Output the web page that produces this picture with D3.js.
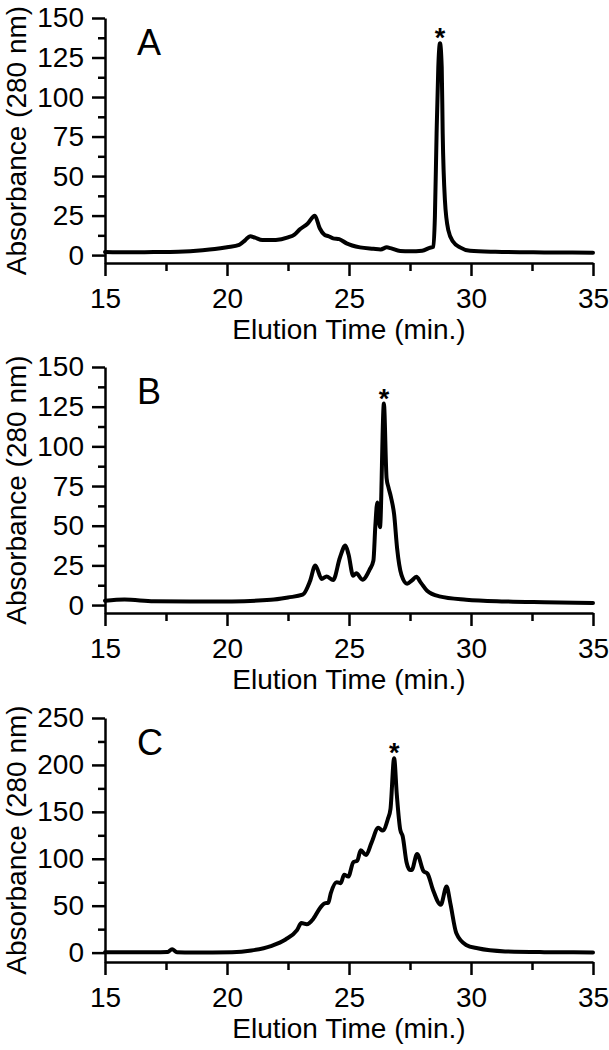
<!DOCTYPE html>
<meta charset="utf-8">
<style>
  body { margin: 0; background: #fff; }
  svg { display: block; font-family: "Liberation Sans", Arial, sans-serif; }
  .axis path, .axis line { stroke: #000; stroke-width: 2.5; }
  .axis text { font-size: 28px; fill: #000; font-family: "Liberation Sans", Arial, sans-serif; }
  .trace { fill: none; stroke: #000; stroke-width: 4; stroke-linejoin: round; stroke-linecap: round; }
  .title { font-size: 28px; fill: #000; }
  .letter { font-size: 36px; fill: #000; }
  .star { font-size: 27px; font-weight: bold; fill: #000; }
</style>
<body>
<script src="https://d3js.org/d3.v7.min.js"></script>
<script>

const width = 609;
const height = 1050;

// elution time (min.) and absorbance at 280 nm
const timeA = [15, 16, 17, 18, 19, 19.5, 20, 20.5, 20.75, 20.95, 21.15, 21.45, 22, 22.5, 22.75, 23, 23.3, 23.6, 23.8, 24, 24.15, 24.35, 24.6, 24.9, 25.45, 26, 26.3, 26.55, 26.7, 27.1, 27.5, 28, 28.3, 28.46, 28.52, 28.59, 28.66, 28.73, 28.8, 28.84, 28.93, 29.07, 29.27, 29.55, 29.96, 31, 33, 35];
const absA  = [2.0, 1.8, 1.9, 2.1, 3.0, 3.8, 5.0, 6.5, 9.5, 12, 11, 9.5, 9.6, 11.2, 12.8, 16.5, 19.8, 24.9, 17, 12.8, 12, 10.6, 10.1, 7.4, 4.9, 4.0, 3.6, 4.9, 4.4, 2.6, 2.4, 2.8, 4.6, 5.3, 24, 77, 119, 134, 119, 77, 35, 15.8, 8.4, 4.9, 2.7, 2.1, 1.7, 1.5];

const timeB = [15, 15.8, 17, 18.5, 20.2, 21.8, 22.5, 23.1, 23.4, 23.62, 23.88, 24.08, 24.35, 24.63, 24.85, 24.98, 25.17, 25.3, 25.55, 25.85, 26.0, 26.08, 26.16, 26.27, 26.43, 26.54, 26.62, 26.72, 26.85, 26.97, 27.15, 27.38, 27.58, 27.76, 27.95, 28.2, 28.7, 29.8, 31.4, 33, 35];
const absB  = [2.7, 3.5, 2.4, 2.2, 2.3, 3.3, 4.8, 6.5, 15, 25, 16.5, 18, 15.8, 30, 37.5, 32, 18.5, 20, 16, 22.5, 28, 50, 64.7, 49, 127, 80, 74, 68, 57, 36, 19, 13.5, 15.5, 17.8, 14, 9, 5.5, 3.4, 2.3, 1.8, 1.3];

const timeC = [15, 17, 17.55, 17.75, 17.95, 18.6, 20.2, 21.0, 21.8, 22.4, 22.87, 23.05, 23.27, 23.55, 23.8, 24.0, 24.15, 24.25, 24.5, 24.66, 24.8, 24.97, 25.18, 25.34, 25.48, 25.7, 25.92, 26.2, 26.38, 26.6, 26.7, 26.85, 26.96, 27.1, 27.2, 27.36, 27.5, 27.57, 27.79, 28.05, 28.22, 28.44, 28.76, 29.0, 29.15, 29.4, 29.8, 30.27, 31.4, 33, 35];
const absC  = [0.5, 0.4, 0.6, 3.6, 0.5, 0, 0.4, 2.3, 7, 14, 24, 31.5, 30.3, 36.5, 47, 52.5, 53, 63, 75, 74, 83, 81, 96.5, 98, 109, 104, 117, 133, 130, 143, 153, 207, 168, 131, 124, 96, 88, 88, 105, 87, 84, 67, 51, 70.4, 53, 20.6, 8.2, 4.6, 1.3, 0.5, 0.2];

const panelLabels = ["A", "B", "C"];
const yMax = [150, 150, 250];
const yMin = [-5, -5, -10];
const yStep = [25, 25, 50];
const xMajor = [15, 20, 25, 30, 35];
const xMinor = [17.5, 22.5, 27.5, 32.5];
const xTitle = "Elution Time (min.)";
const yTitle = "Absorbance (280 nm)";

const series = [
  {time: timeA, abs: absA},
  {time: timeB, abs: absB},
  {time: timeC, abs: absC}
];

// panel frames: top of y range, bottom (x axis) line
const frames = [[18, 263], [367, 613], [718, 962]];
const left = 105, right = 593;

const svg = d3.select("body")
              .append("svg")
              .attr("width", width)
              .attr("height", height);

const x = d3.scaleLinear().domain([15, 35]).range([left, right]);

series.forEach((s, i) => {
  const top = frames[i][0], bottom = frames[i][1];
  const y = d3.scaleLinear().domain([yMin[i], yMax[i]]).range([bottom, top]);
  const g = svg.append("g");

  const yMajorTicks = d3.range(0, yMax[i] + 1, yStep[i]);
  const yMinorTicks = d3.range(yStep[i] / 2, yMax[i], yStep[i]);

  g.append("g")
   .attr("class", "axis")
   .attr("transform", `translate(0,${bottom})`)
   .call(d3.axisBottom(x).tickValues(xMinor).tickSize(8).tickFormat("").tickSizeOuter(0))
   .select(".domain").remove();

  g.append("g")
   .attr("class", "axis")
   .attr("transform", `translate(0,${bottom})`)
   .call(d3.axisBottom(x).tickValues(xMajor).tickSize(13).tickPadding(12).tickSizeOuter(0));

  g.append("g")
   .attr("class", "axis")
   .attr("transform", `translate(${left},0)`)
   .call(d3.axisLeft(y).tickValues(yMinorTicks).tickSize(7).tickFormat("").tickSizeOuter(0))
   .select(".domain").remove();

  g.append("g")
   .attr("class", "axis")
   .attr("transform", `translate(${left},0)`)
   .call(d3.axisLeft(y).tickValues(yMajorTicks).tickSize(13).tickPadding(8).tickSizeOuter(0));

  const line = d3.line()
                 .x((d, k) => x(s.time[k]))
                 .y(d => y(d))
                 .curve(d3.curveMonotoneX);

  g.append("path")
   .attr("class", "trace")
   .attr("d", line(s.abs));

  // asterisk above the main peak
  const k = d3.maxIndex(s.abs);
  g.append("text")
   .attr("class", "star")
   .attr("text-anchor", "middle")
   .attr("x", x(s.time[k]))
   .attr("y", y(s.abs[k]) + 4)
   .text("*");

  g.append("text")
   .attr("class", "letter")
   .attr("x", 137)
   .attr("y", top + 37)
   .text(panelLabels[i]);

  g.append("text")
   .attr("class", "title")
   .attr("text-anchor", "middle")
   .attr("x", (left + right) / 2)
   .attr("y", bottom + 76)
   .text(xTitle);

  g.append("text")
   .attr("class", "title")
   .attr("text-anchor", "middle")
   .attr("transform", `translate(26,${(top + bottom) / 2}) rotate(-90)`)
   .text(yTitle);
});
</script>
</body>
